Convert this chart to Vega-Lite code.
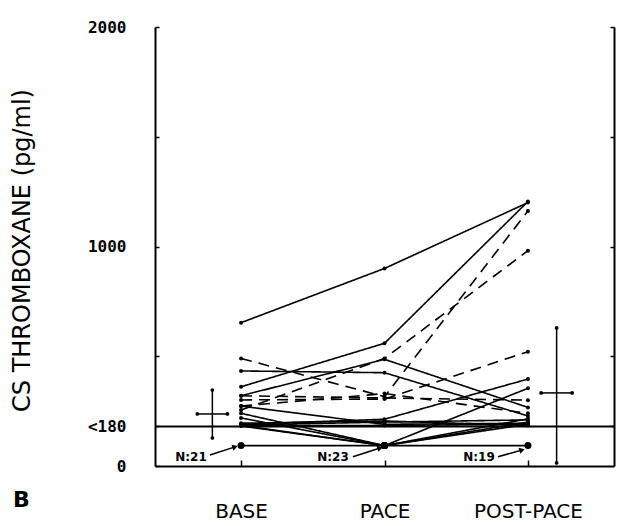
{
  "$schema": "https://vega.github.io/schema/vega-lite/v6.json",
  "autosize": {"type": "none"},
  "width": 459,
  "height": 439,
  "padding": {"left": 155, "top": 27, "right": 4, "bottom": 60},
  "background": "white",
  "config": {
    "view": {"stroke": null},
    "axis": {"domainColor": "black", "domainWidth": 2, "tickColor": "black", "tickWidth": 1.5, "labelColor": "black", "titleColor": "black", "grid": false}
  },
  "title": {"text": "B", "orient": "bottom", "anchor": "start", "frame": "bounds", "offset": 0, "dx": 3, "dy": -31, "fontSize": 22, "font": "DejaVu Sans", "fontWeight": "bold", "color": "black"},
  "datasets": {
    "lines": [
      {"id": "s1", "type": "solid", "x": 0, "v": 653}, {"id": "s1", "type": "solid", "x": 1, "v": 900}, {"id": "s1", "type": "solid", "x": 2, "v": 1200},
      {"id": "s2", "type": "solid", "x": 0, "v": 361}, {"id": "s2", "type": "solid", "x": 1, "v": 559}, {"id": "s2", "type": "solid", "x": 2, "v": 1205},
      {"id": "s3", "type": "solid", "x": 0, "v": 320}, {"id": "s3", "type": "solid", "x": 1, "v": 486}, {"id": "s3", "type": "solid", "x": 2, "v": 267},
      {"id": "s4", "type": "solid", "x": 0, "v": 433}, {"id": "s4", "type": "solid", "x": 1, "v": 425}, {"id": "s4", "type": "solid", "x": 2, "v": 228},
      {"id": "s5", "type": "solid", "x": 0, "v": 240}, {"id": "s5", "type": "solid", "x": 1, "v": 93}, {"id": "s5", "type": "solid", "x": 2, "v": 190},
      {"id": "s6", "type": "solid", "x": 0, "v": 219}, {"id": "s6", "type": "solid", "x": 1, "v": 93}, {"id": "s6", "type": "solid", "x": 2, "v": 200},
      {"id": "s7", "type": "solid", "x": 0, "v": 190}, {"id": "s7", "type": "solid", "x": 1, "v": 213}, {"id": "s7", "type": "solid", "x": 2, "v": 396},
      {"id": "s8", "type": "solid", "x": 0, "v": 185}, {"id": "s8", "type": "solid", "x": 1, "v": 93}, {"id": "s8", "type": "solid", "x": 2, "v": 354},
      {"id": "s9", "type": "solid", "x": 0, "v": 183}, {"id": "s9", "type": "solid", "x": 1, "v": 185}, {"id": "s9", "type": "solid", "x": 2, "v": 190},
      {"id": "s10", "type": "solid", "x": 0, "v": 187}, {"id": "s10", "type": "solid", "x": 1, "v": 200}, {"id": "s10", "type": "solid", "x": 2, "v": 210},
      {"id": "s11", "type": "solid", "x": 0, "v": 93}, {"id": "s11", "type": "solid", "x": 1, "v": 93}, {"id": "s11", "type": "solid", "x": 2, "v": 93},
      {"id": "s12", "type": "solid", "x": 0, "v": 182}, {"id": "s12", "type": "solid", "x": 1, "v": 93}, {"id": "s12", "type": "solid", "x": 2, "v": 215},
      {"id": "s13", "type": "solid", "x": 0, "v": 273}, {"id": "s13", "type": "solid", "x": 1, "v": 190}, {"id": "s13", "type": "solid", "x": 2, "v": 195},
      {"id": "s14", "type": "solid", "x": 0, "v": 195}, {"id": "s14", "type": "solid", "x": 1, "v": 205}, {"id": "s14", "type": "solid", "x": 2, "v": 185},
      {"id": "d1", "type": "dashed", "x": 0, "v": 490}, {"id": "d1", "type": "dashed", "x": 1, "v": 316}, {"id": "d1", "type": "dashed", "x": 2, "v": 1162},
      {"id": "d2", "type": "dashed", "x": 0, "v": 255}, {"id": "d2", "type": "dashed", "x": 1, "v": 490}, {"id": "d2", "type": "dashed", "x": 2, "v": 981},
      {"id": "d3", "type": "dashed", "x": 0, "v": 320}, {"id": "d3", "type": "dashed", "x": 1, "v": 310}, {"id": "d3", "type": "dashed", "x": 2, "v": 300},
      {"id": "d4", "type": "dashed", "x": 0, "v": 301}, {"id": "d4", "type": "dashed", "x": 1, "v": 305}, {"id": "d4", "type": "dashed", "x": 2, "v": 521},
      {"id": "d5", "type": "dashed", "x": 0, "v": 273}, {"id": "d5", "type": "dashed", "x": 1, "v": 330}, {"id": "d5", "type": "dashed", "x": 2, "v": 240}
    ],
    "errbars": [
      {"x": -0.2, "lo": 128, "hi": 346, "m": 237, "xl": -0.305, "xr": -0.095},
      {"x": 2.2, "lo": 14, "hi": 629, "m": 333, "xl": 2.092, "xr": 2.308}
    ],
    "ebdots": [
      {"x": -0.2, "v": 128}, {"x": -0.2, "v": 346}, {"x": -0.305, "v": 237}, {"x": -0.095, "v": 237},
      {"x": 2.2, "v": 14}, {"x": 2.2, "v": 629}, {"x": 2.092, "v": 333}, {"x": 2.308, "v": 333}
    ],
    "notes": [
      {"x": -0.349, "v": 42, "t": "N:21"},
      {"x": 0.641, "v": 42, "t": "N:23"},
      {"x": 1.659, "v": 42, "t": "N:19"}
    ],
    "arrows": [
      {"x": -0.217, "v": 50, "x2": -0.042, "v2": 87},
      {"x": 0.78, "v": 42, "x2": 0.969, "v2": 82},
      {"x": 1.791, "v": 42, "x2": 1.959, "v2": 73}
    ]
  },
  "resolve": {"axis": {"y": "independent"}},
  "layer": [
    {
      "data": {"name": "lines"},
      "mark": {"type": "line", "color": "black", "strokeWidth": 1.6},
      "encoding": {
        "x": {"field": "x", "type": "quantitative", "scale": {"domain": [-0.6, 2.6], "nice": false, "zero": false},
          "axis": {"values": [0, 1, 2], "labelExpr": "datum.value == 0 ? 'BASE' : datum.value == 1 ? 'PACE' : 'POST-PACE'", "title": null, "tickSize": -6, "labelPadding": 41, "labelFontSize": 20, "labelFont": "DejaVu Sans", "labelFontWeight": "normal"}},
        "y": {"field": "v", "type": "quantitative", "scale": {"domain": [0, 2000], "nice": false},
          "axis": {"values": [0, 180, 500, 1000, 1500, 2000], "labelExpr": "datum.value == 180 ? '<180' : (datum.value == 500 || datum.value == 1500) ? '' : format(datum.value, 'd')", "tickSize": -4, "labelPadding": 33, "labelFont": "DejaVu Sans Mono", "labelFontSize": 16, "labelFontWeight": "bold",
            "title": "CS THROMBOXANE (pg/ml)", "titleFont": "DejaVu Sans", "titleFontSize": 24, "titleFontWeight": "normal", "titleX": -133, "titleY": 223, "titleAngle": -90, "titleAlign": "center", "titleBaseline": "middle"}},
        "detail": {"field": "id"},
        "strokeDash": {"field": "type", "type": "nominal", "scale": {"domain": ["solid", "dashed"], "range": [[1, 0], [11, 7]]}, "legend": null}
      }
    },
    {
      "data": {"name": "lines"},
      "mark": {"type": "point", "filled": true, "color": "black", "opacity": 1},
      "encoding": {
        "x": {"field": "x", "type": "quantitative"},
        "y": {"field": "v", "type": "quantitative", "axis": null},
        "size": {"condition": {"test": "datum.v < 100", "value": 50}, "value": 16}
      }
    },
    {
      "data": {"values": [{"v": 180}]},
      "mark": {"type": "rule", "color": "black", "strokeWidth": 1.8},
      "encoding": {"y": {"field": "v", "type": "quantitative", "axis": null}}
    },
    {
      "data": {"name": "errbars"},
      "mark": {"type": "rule", "color": "black", "strokeWidth": 1.5},
      "encoding": {
        "x": {"field": "x", "type": "quantitative"},
        "y": {"field": "lo", "type": "quantitative",
          "axis": {"orient": "right", "labels": false, "values": [180, 500, 1000, 1500, 2000], "tickSize": -4, "title": null}},
        "y2": {"field": "hi"}
      }
    },
    {
      "data": {"name": "errbars"},
      "mark": {"type": "rule", "color": "black", "strokeWidth": 1.5},
      "encoding": {
        "x": {"field": "xl", "type": "quantitative"},
        "x2": {"field": "xr"},
        "y": {"field": "m", "type": "quantitative", "axis": null}
      }
    },
    {
      "data": {"name": "ebdots"},
      "mark": {"type": "point", "filled": true, "color": "black", "opacity": 1, "size": 14},
      "encoding": {
        "x": {"field": "x", "type": "quantitative"},
        "y": {"field": "v", "type": "quantitative", "axis": null}
      }
    },
    {
      "data": {"name": "notes"},
      "mark": {"type": "text", "font": "DejaVu Sans", "fontSize": 12, "fontWeight": "bold", "color": "black"},
      "encoding": {
        "x": {"field": "x", "type": "quantitative"},
        "y": {"field": "v", "type": "quantitative", "axis": null},
        "text": {"field": "t"}
      }
    },
    {
      "data": {"name": "arrows"},
      "mark": {"type": "rule", "color": "black", "strokeWidth": 1.5},
      "encoding": {
        "x": {"field": "x", "type": "quantitative"},
        "x2": {"field": "x2"},
        "y": {"field": "v", "type": "quantitative", "axis": null},
        "y2": {"field": "v2"}
      }
    },
    {
      "data": {"name": "arrows"},
      "mark": {"type": "point", "shape": "triangle-right", "filled": true, "color": "black", "opacity": 1, "size": 40, "angle": -18},
      "encoding": {
        "x": {"field": "x2", "type": "quantitative"},
        "y": {"field": "v2", "type": "quantitative", "axis": null}
      }
    }
  ]
}
